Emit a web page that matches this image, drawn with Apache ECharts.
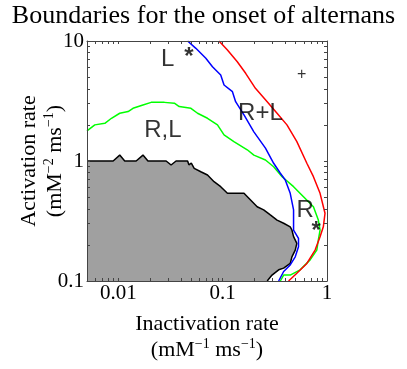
<!DOCTYPE html>
<html><head><meta charset="utf-8">
<script src="https://cdn.jsdelivr.net/npm/echarts@6/dist/echarts.min.js"></script>
<style>html,body{margin:0;padding:0;background:#fff}#c{width:407px;height:369px}</style>
</head><body><div id="c"></div>
<script>
const xRange = [0.005, 1];
const yRange = [0.1, 10];
const xTickValues = [0.01, 0.1, 1];
const xTickLabels = ['0.01', '0.1', '1'];
const yTickValues = [0.1, 1, 10];
const yTickLabels = ['0.1', '1', '10'];

const redCurve = [[0.0922,10],[0.111,8.41],[0.138,6.72],[0.166,5.38],[0.206,4.03],[0.267,3.12],[0.332,2.50],[0.413,2.0],[0.514,1.45],[0.641,0.957],[0.741,0.740],[0.858,0.538],[0.957,0.367],[0.922,0.283],[0.858,0.234],[0.769,0.181],[0.641,0.140],[0.514,0.116],[0.428,0.1]];
const blueCurve = [[0.0461,10],[0.0553,8.69],[0.0689,7.17],[0.0798,6.11],[0.0957,5.21],[0.103,4.30],[0.124,3.78],[0.133,3.12],[0.160,2.42],[0.199,1.75],[0.257,1.28],[0.308,0.957],[0.357,0.790],[0.398,0.695],[0.444,0.538],[0.478,0.391],[0.478,0.266],[0.533,0.227],[0.533,0.193],[0.496,0.159],[0.444,0.136],[0.384,0.120],[0.344,0.1]];
const greenCurve = [[0.005,1.78],[0.00594,2.0],[0.00741,2.06],[0.00858,2.27],[0.0103,2.50],[0.0124,2.58],[0.0138,2.75],[0.0172,2.93],[0.0206,3.08],[0.0276,3.08],[0.0344,3.03],[0.0383,2.84],[0.0496,2.75],[0.0574,2.50],[0.0715,2.27],[0.0891,2.0],[0.103,1.65],[0.128,1.45],[0.172,1.24],[0.199,1.12],[0.257,1.02],[0.308,0.896],[0.371,0.740],[0.478,0.611],[0.595,0.504],[0.741,0.416],[0.826,0.322],[0.858,0.266],[0.826,0.220],[0.798,0.181],[0.689,0.150],[0.553,0.124],[0.444,0.112],[0.384,0.112],[0.357,0.1]];
const grayBoundary = [[0.005,1.0],[0.0089,1.0],[0.0103,1.12],[0.0115,1.0],[0.0148,1.0],[0.0172,1.12],[0.0192,1.0],[0.0287,1.0],[0.0320,0.926],[0.0357,1.0],[0.0461,1.0],[0.0474,0.93],[0.050,0.96],[0.0533,0.869],[0.0617,0.814],[0.0715,0.764],[0.0826,0.672],[0.0957,0.611],[0.111,0.538],[0.160,0.538],[0.185,0.473],[0.214,0.416],[0.247,0.391],[0.286,0.355],[0.332,0.322],[0.384,0.303],[0.444,0.283],[0.461,0.266],[0.478,0.234],[0.514,0.206],[0.496,0.181],[0.461,0.159],[0.444,0.140],[0.384,0.128],[0.344,0.124],[0.297,0.112],[0.267,0.1]];

const labelTexts = ['L', '*', '+', 'R+L', 'R,L', 'R', '*'];
const labelX = [0.0296, 0.0474, 0.572, 0.230, 0.0267, 0.617, 0.786];
const labelY = [7.01, 7.79, 5.26, 2.51, 1.80, 0.391, 0.277];

// ---- build ----
const L = v => Math.log10(v);
const toLog = arr => arr.map(p => [L(p[0]), L(p[1])]);
function minorTicks(lo, hi) {
  const out = [];
  for (let d = Math.floor(L(lo)); d <= Math.ceil(L(hi)); d++) {
    for (let k = 1; k <= 9; k++) {
      const v = k * Math.pow(10, d);
      if (v >= lo * 0.9999 && v <= hi * 1.0001) out.push(L(v));
    }
  }
  return out;
}
const xTicksAll = minorTicks(xRange[0], xRange[1]);
const yTicksAll = minorTicks(yRange[0], yRange[1]);
function labelFor(values, labels) {
  return v => { for (let i = 0; i < values.length; i++) if (Math.abs(L(values[i]) - v) < 1e-6) return labels[i]; return ''; };
}
const SERIF = 'Liberation Serif, Times New Roman, serif';
const SANS = 'Liberation Sans, Arial, Helvetica, sans-serif';
const frame = { show: true, onZero: false, lineStyle: { color: '#444', width: 1 } };
const tick = (vals) => ({ show: true, inside: true, length: 3, customValues: vals, lineStyle: { color: '#444', width: 1 } });
const nameRich = {
  a: { fontFamily: SERIF, fontSize: 22, lineHeight: 26, color: '#000' },
  s: { fontFamily: SERIF, fontSize: 14, lineHeight: 10, verticalAlign: 'top', color: '#000' }
};

const polygonPts = [[xRange[0], yRange[0]]].concat(grayBoundary);

const chart = echarts.init(document.getElementById('c'), null, { renderer: 'canvas' });
chart.setOption({
  animation: false,
  backgroundColor: '#fff',
  title: { text: 'Boundaries for the onset of alternans', left: 'center', top: -2,
    textStyle: { fontFamily: SERIF, fontSize: 26, fontWeight: 'normal', color: '#000' } },
  grid: { left: 87, top: 41, width: 240, height: 240, containLabel: false, outerBoundsMode: 'none' },
  xAxis: [
    { type: 'value', z: 10, min: L(xRange[0]), max: L(xRange[1]), position: 'bottom',
      axisLine: frame, axisTick: tick(xTicksAll), splitLine: { show: false },
      axisLabel: { customValues: xTickValues.map(L), formatter: labelFor(xTickValues, xTickLabels),
        fontFamily: SERIF, fontSize: 21, color: '#000', margin: 2 },
      name: '{a|Inactivation rate}\n{a|(mM}{s|−1}{a| ms}{s|−1}{a|)}', nameLocation: 'middle', nameGap: 30,
      nameMoveOverlap: false, nameTextStyle: { rich: nameRich } },
    { type: 'value', z: 10, min: L(xRange[0]), max: L(xRange[1]), position: 'top',
      axisLine: frame, axisTick: tick(xTicksAll), splitLine: { show: false }, axisLabel: { show: false } }
  ],
  yAxis: [
    { type: 'value', z: 10, min: L(yRange[0]), max: L(yRange[1]), position: 'left',
      axisLine: frame, axisTick: tick(yTicksAll), splitLine: { show: false },
      axisLabel: { customValues: yTickValues.map(L), formatter: labelFor(yTickValues, yTickLabels),
        fontFamily: SERIF, fontSize: 21, color: '#000', margin: 3 },
      name: '{a|Activation rate}\n{a|(mM}{s|−2}{a| ms}{s|−1}{a|)}', nameLocation: 'middle', nameGap: 19, nameRotate: 90,
      nameMoveOverlap: false, nameTextStyle: { rich: nameRich } },
    { type: 'value', z: 10, min: L(yRange[0]), max: L(yRange[1]), position: 'right',
      axisLine: frame, axisTick: tick(yTicksAll), splitLine: { show: false }, axisLabel: { show: false } }
  ],
  series: [
    { type: 'custom', xAxisIndex: 0, yAxisIndex: 0, z: 1, silent: true,
      data: [[L(xRange[0]), L(yRange[0])]],
      renderItem: (params, api) => ({
        type: 'polygon',
        shape: { points: polygonPts.map(p => api.coord([L(p[0]), L(p[1])])) },
        style: { fill: '#a0a0a0', stroke: null }
      }) },
    { type: 'line', data: toLog(grayBoundary), symbol: 'none', z: 2,
      lineStyle: { color: '#000', width: 1.5 } },
    { type: 'line', data: toLog(greenCurve), symbol: 'none', z: 3,
      lineStyle: { color: '#00ff00', width: 1.5 } },
    { type: 'line', data: toLog(blueCurve), symbol: 'none', z: 3,
      lineStyle: { color: '#0000ff', width: 1.5 } },
    { type: 'line', data: toLog(redCurve), symbol: 'none', z: 3,
      lineStyle: { color: '#ff0000', width: 1.5 } },
    { type: 'scatter', z: 5, symbolSize: 1, itemStyle: { color: 'rgba(0,0,0,0)' },
      data: labelTexts.map((t, i) => ({
        value: [L(labelX[i]), L(labelY[i])], name: t,
        label: { show: true, position: 'inside', formatter: t, color: '#000',
          fontFamily: SANS, fontSize: t === '+' ? 16 : 24,
          fontWeight: t === '*' ? 'bold' : 'normal',
          offset: t === '*' ? [0, 3] : [0, 0] }
      })) }
  ]
});
</script></body></html>
